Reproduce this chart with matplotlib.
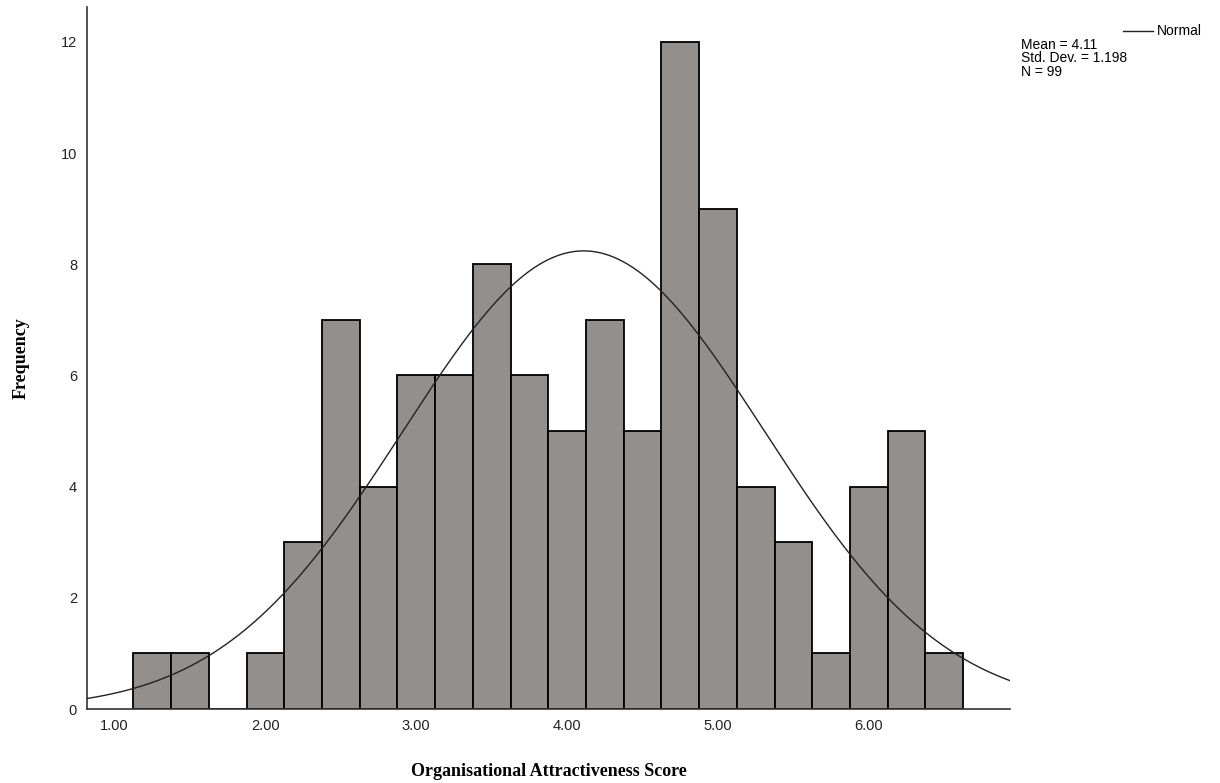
import numpy as np
import matplotlib
matplotlib.use("Agg")
import matplotlib.pyplot as plt

# histogram of the attractiveness score, 0.25-wide bins
bin_start = 1.125
bin_width = 0.25
counts = [1, 1, 0, 1, 3, 7, 4, 6, 6, 8, 6, 5, 7, 5, 12, 9, 4, 3, 1, 4, 5, 1]

mean = 4.11
std_dev = 1.198
n_obs = 99

x_ticks = [1.0, 2.0, 3.0, 4.0, 5.0, 6.0]
y_ticks = [0, 2, 4, 6, 8, 10, 12]

x_label = "Organisational Attractiveness Score"
y_label = "Frequency"

fig = plt.figure(figsize=(12.2, 7.83), dpi=100)
ax = fig.add_axes([0.0711, 0.0945, 0.7568, 0.8966])

edges = bin_start + bin_width * np.arange(len(counts))
ax.bar(edges, counts, width=bin_width, align="edge",
       color="#938f8c", edgecolor="black", linewidth=1.3, zorder=2)

# normal curve scaled to the counts
xlim = (0.816, 6.936)
xs = np.linspace(xlim[0], xlim[1], 400)
pdf = np.exp(-0.5 * ((xs - mean) / std_dev) ** 2) / (std_dev * np.sqrt(2 * np.pi))
ax.plot(xs, pdf * n_obs * bin_width, color="#222222", linewidth=1.0, zorder=3)

ax.set_xlim(*xlim)
ax.set_ylim(0, 12.63)
ax.set_xticks(x_ticks)
ax.set_xticklabels([f"{t:.2f}" for t in x_ticks])
ax.set_yticks(y_ticks)
ax.tick_params(length=0, labelsize=10.5, pad=7, colors="#222222")
for lab in ax.get_xticklabels() + ax.get_yticklabels():
    lab.set_fontfamily("Liberation Sans")

for side in ("top", "right"):
    ax.spines[side].set_visible(False)
for side in ("left", "bottom"):
    ax.spines[side].set_color("#333333")
    ax.spines[side].set_linewidth(1.2)

ax.set_xlabel(x_label, fontfamily="Liberation Serif", fontweight="bold",
              fontsize=13, labelpad=22)
ax.set_ylabel(y_label, fontfamily="Liberation Serif", fontweight="bold",
              fontsize=13, labelpad=22)

# legend block in the top right corner
fig.add_artist(plt.Line2D([1123 / 1220, 1153 / 1220], [1 - 31 / 783, 1 - 31 / 783],
                          color="#222222", linewidth=1.0))
fig.text(1157 / 1220, 1 - 31 / 783, "Normal", fontfamily="Liberation Sans",
         fontsize=10, va="center", ha="left")
fig.text(1021 / 1220, 1 - 38 / 783,
         f"Mean = {mean:.2f}\nStd. Dev. = {std_dev:.3f}\nN = {n_obs}",
         fontfamily="Liberation Sans", fontsize=10, va="top", ha="left",
         linespacing=0.95)

fig.savefig("out.png", dpi=100)
